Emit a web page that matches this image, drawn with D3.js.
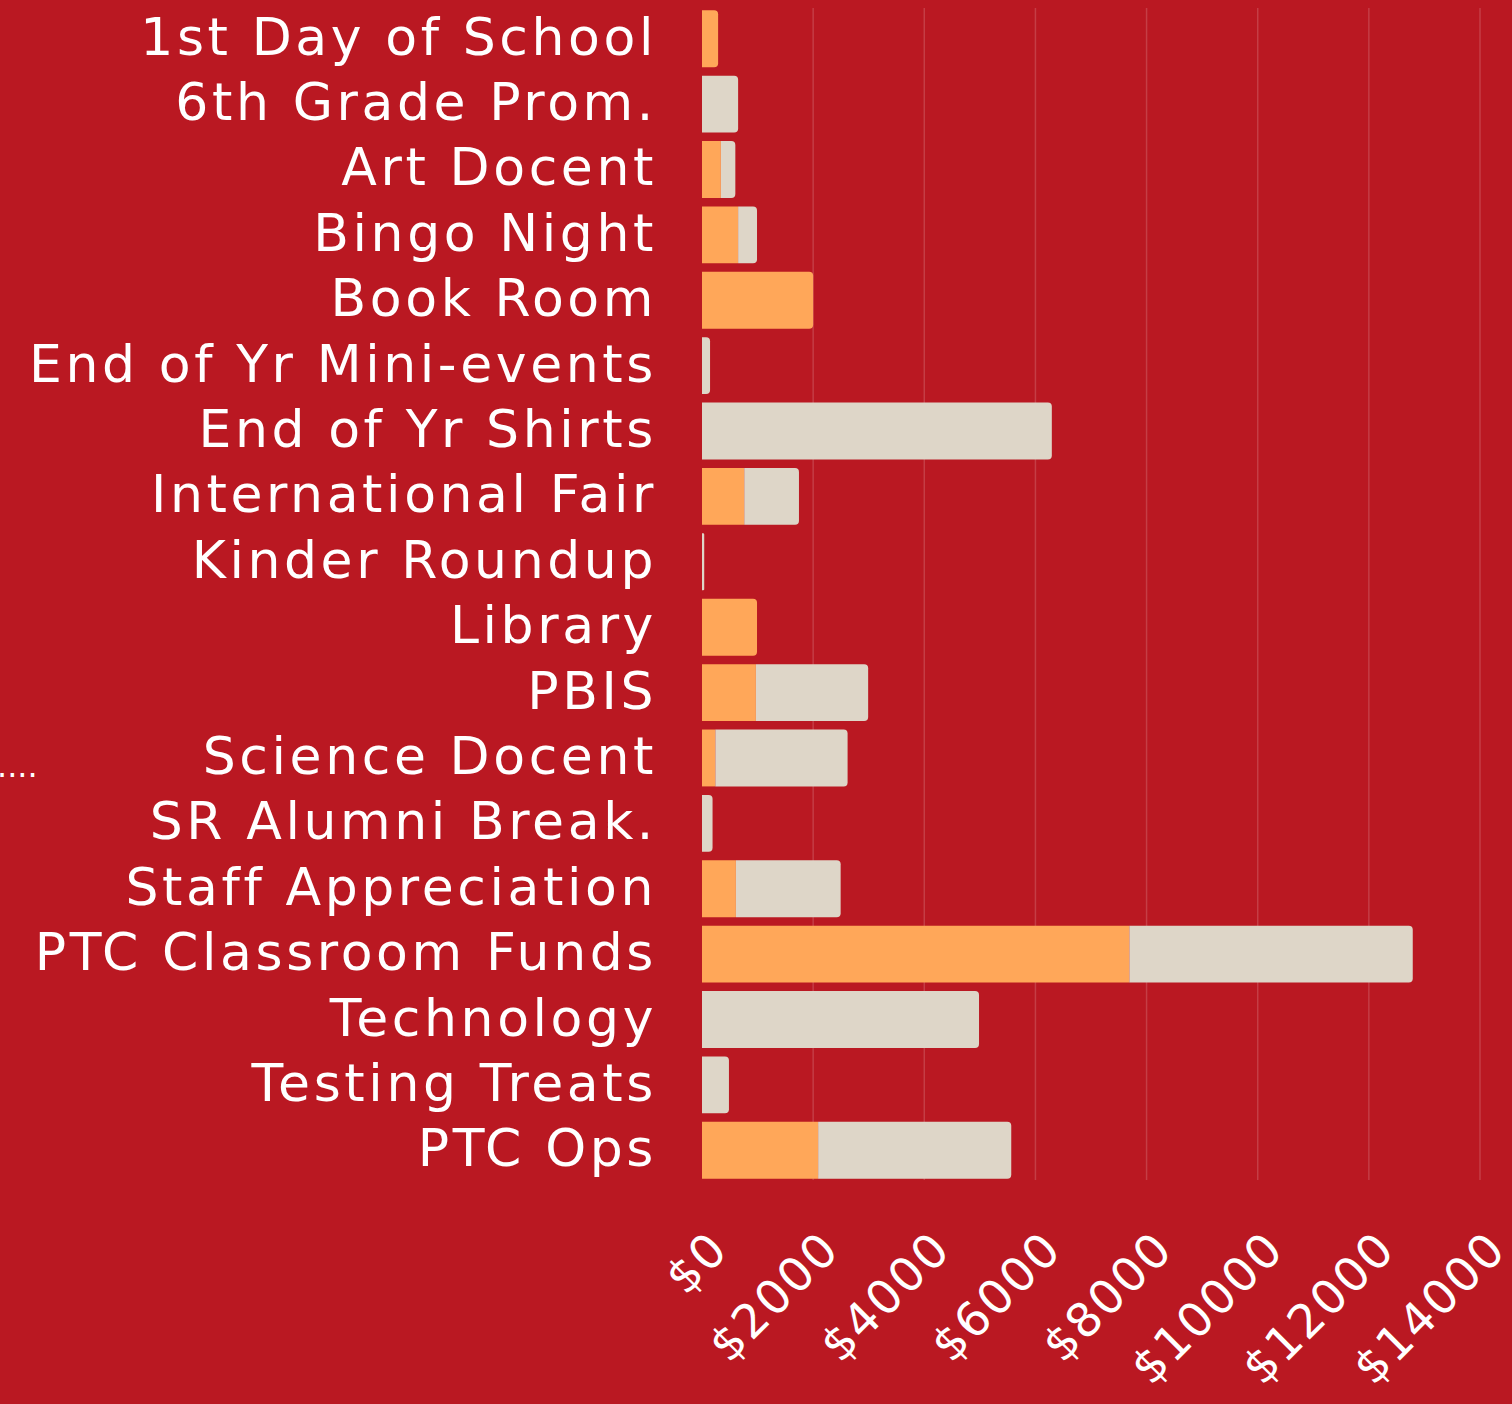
<!DOCTYPE html>
<html lang="en">
<head>
    <meta charset="UTF-8">
    <title>PTC Budget by Program</title>
    <script src="https://cdn.jsdelivr.net/npm/d3@7"></script>
    <style>
        html, body { margin: 0; padding: 0; background: #ba1822; overflow: hidden; }
        svg { display: block; }
    </style>
</head>
<body>
</body>
<script>
    var width = 1512
    var height = 1404

    // categories top to bottom
    var categories = ['1st Day of School', '6th Grade Prom.', 'Art Docent', 'Bingo Night', 'Book Room',
        'End of Yr Mini-events', 'End of Yr Shirts', 'International Fair', 'Kinder Roundup', 'Library',
        'PBIS', 'Science Docent', 'SR Alumni Break.', 'Staff Appreciation', 'PTC Classroom Funds',
        'Technology', 'Testing Treats', 'PTC Ops']
    // orange part of each bar
    var seriesA = [290, 0, 340, 650, 2000, 0, 0, 760, 0, 990, 970, 240, 0, 610, 7690, 0, 0, 2090]
    // beige part stacked on top
    var seriesB = [0, 650, 260, 340, 0, 145, 6295, 985, 40, 0, 2020, 2380, 190, 1885, 5100, 4985, 485, 3475]
    var tickValues = [0, 2000, 4000, 6000, 8000, 10000, 12000, 14000]

    var colA = '#ffa759'
    var colB = '#ded6c8'

    var svg = d3.select('body')
        .append('svg')
        .attr('width', width)
        .attr('height', height);

    svg.append('rect').attr('width', width).attr('height', height).attr('fill', '#ba1822');

    var x = d3.scaleLinear().domain([0, 14000]).range([702, 1480]);
    var y = d3.scaleBand().domain(categories).range([6, 1183]).paddingInner(0.13).paddingOuter(0.065);

    // gridlines
    svg.append('g')
        .selectAll('line')
        .data(tickValues.slice(1))
        .enter().append('line')
        .attr('x1', d => x(d)).attr('x2', d => x(d))
        .attr('y1', 8).attr('y2', 1180)
        .attr('stroke', 'rgba(255,255,255,0.16)')
        .attr('stroke-width', 1.5);

    // rect with only right corners rounded
    function barPath(x0, x1, y0, h, r) {
        var w = x1 - x0
        r = Math.min(r, w / 2, h / 2)
        if (r <= 0) return 'M' + x0 + ',' + y0 + 'h' + w + 'v' + h + 'h' + (-w) + 'Z'
        return 'M' + x0 + ',' + y0 +
            'H' + (x1 - r) + 'Q' + x1 + ',' + y0 + ' ' + x1 + ',' + (y0 + r) +
            'V' + (y0 + h - r) + 'Q' + x1 + ',' + (y0 + h) + ' ' + (x1 - r) + ',' + (y0 + h) +
            'H' + x0 + 'Z'
    }

    var rows = categories.map((c, i) => ({name: c, a: seriesA[i], b: seriesB[i]}))
    var bars = svg.append('g')
    rows.forEach(d => {
        var y0 = y(d.name), h = y.bandwidth()
        if (d.a > 0) {
            bars.append('path')
                .attr('d', barPath(x(0), x(d.a), y0, h, d.b > 0 ? 0 : 4))
                .attr('fill', colA)
        }
        if (d.b > 0) {
            bars.append('path')
                .attr('d', barPath(x(d.a), x(d.a + d.b), y0, h, 4))
                .attr('fill', colB)
        }
    })

    // category labels
    svg.append('g')
        .selectAll('text')
        .data(categories)
        .enter().append('text')
        .attr('x', 657)
        .attr('y', d => y(d) + y.bandwidth() / 2 + 16)
        .attr('text-anchor', 'end')
        .attr('fill', '#fff')
        .style('font-family', '"DejaVu Sans", sans-serif')
        .style('font-size', '52px')
        .style('letter-spacing', '3.6px')
        .text(d => d);

    // x tick labels, rotated
    svg.append('g')
        .selectAll('text')
        .data(tickValues)
        .enter().append('text')
        .attr('transform', d => 'translate(' + (x(d) + 17) + ',1240) rotate(-45)')
        .attr('text-anchor', 'end')
        .attr('dominant-baseline', 'central')
        .attr('fill', '#fff')
        .style('font-family', '"DejaVu Sans", sans-serif')
        .style('font-size', '47px')
        .style('letter-spacing', '2px')
        .text(d => '$' + d);

    // bits of a neighbouring chart cut by the left edge
    svg.append('text')
        .attr('x', -3).attr('y', 777)
        .attr('fill', '#fff')
        .style('font-family', '"DejaVu Sans", sans-serif')
        .style('font-size', '32px')
        .text('....');
    svg.append('text')
        .attr('transform', 'translate(-16,1284) rotate(-45)')
        .attr('fill', '#fff')
        .style('font-family', '"DejaVu Sans", sans-serif')
        .style('font-size', '47px')
        .text('0');
</script>
</html>
